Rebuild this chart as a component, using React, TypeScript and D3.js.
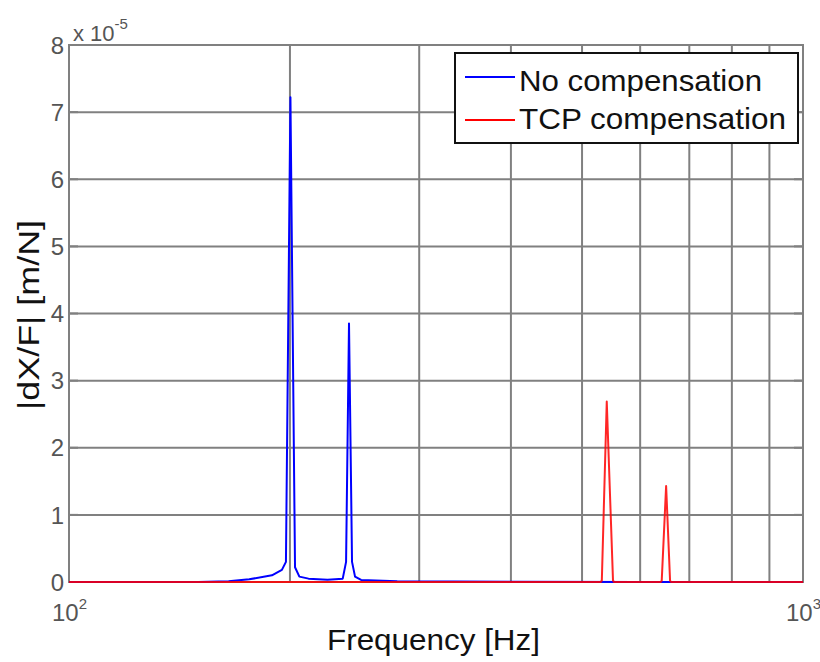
import React from "react";
import * as d3 from "d3";

// Frequencies in Hz, magnitudes in units of 1e-5 m/N
const noCompFreq = [100, 150, 165, 176, 189, 195, 197.5, 200.3, 203.2, 206, 212, 225, 236, 238.5, 240.7, 243, 245.3, 250, 280, 400, 600, 1000];
const noCompVal = [0, 0, 0.01, 0.04, 0.1, 0.18, 0.3, 7.22, 0.22, 0.08, 0.05, 0.035, 0.05, 0.3, 3.85, 0.3, 0.08, 0.03, 0.01, 0.003, 0.001, 0];

const tcpFreq = [100, 530, 532, 540.3, 551, 553, 640, 642, 650.9, 659, 661, 1000];
const tcpVal = [0, 0, 0.02, 2.69, 0.02, 0, 0, 0.02, 1.43, 0.02, 0, 0];

const yTicks = [0, 1, 2, 3, 4, 5, 6, 7, 8];
const xGrid = [200, 300, 400, 500, 600, 700, 800, 900];
const xMajor = [{ v: 100, base: "10", exp: "2" }, { v: 1000, base: "10", exp: "3" }];

const seriesNames = ["No compensation", "TCP compensation"];
const seriesColors = ["#0000ff", "#ff0000"];

export default function App() {
  const W = 820, H = 662;
  const left = 69, right = 803, top = 45, bottom = 582;
  const x = d3.scaleLog().domain([100, 1000]).range([left, right]);
  const y = d3.scaleLinear().domain([0, 8]).range([bottom, top]);
  const line = d3
    .line<[number, number]>()
    .x((d) => x(d[0]))
    .y((d) => y(d[1]));
  const blue = noCompFreq.map((f, i) => [f, noCompVal[i]] as [number, number]);
  const red = tcpFreq.map((f, i) => [f, tcpVal[i]] as [number, number]);
  const font = "'Liberation Sans', Arial, sans-serif";
  const gridColor = "#808080";
  const tickColor = "#555";

  return (
    <svg width={W} height={H} style={{ position: "absolute", left: 0, top: 0, background: "#fff" }} fontFamily={font}>
      <rect x={0} y={0} width={W} height={H} fill="#fff" />
      {/* grid */}
      {xGrid.map((v) => (
        <line key={"gx" + v} x1={x(v)} x2={x(v)} y1={top} y2={bottom} stroke={gridColor} strokeWidth={2} />
      ))}
      {yTicks.slice(1, -1).map((v) => (
        <line key={"gy" + v} x1={left} x2={right} y1={y(v)} y2={y(v)} stroke={gridColor} strokeWidth={2} />
      ))}
      {/* tick marks */}
      {yTicks.map((v) => (
        <g key={"ty" + v}>
          <line x1={left} x2={left + 9} y1={y(v)} y2={y(v)} stroke={gridColor} strokeWidth={2} />
          <line x1={right} x2={right - 9} y1={y(v)} y2={y(v)} stroke={gridColor} strokeWidth={2} />
        </g>
      ))}
      {/* frame */}
      <rect x={left} y={top} width={right - left} height={bottom - top} fill="none" stroke={gridColor} strokeWidth={2} />
      {/* series */}
      <path d={line(blue) || ""} fill="none" stroke={seriesColors[0]} strokeWidth={2} strokeLinejoin="round" />
      <path d={line(red) || ""} fill="none" stroke={seriesColors[1]} strokeWidth={2} strokeOpacity={0.85} strokeLinejoin="round" />
      {/* y tick labels */}
      {yTicks.map((v) => (
        <text key={"yl" + v} x={left - 5} y={y(v)} dy="0.36em" textAnchor="end" fontSize={24} fill={tickColor}>
          {v}
        </text>
      ))}
      {/* exponent */}
      <text x={73} y={41} fontSize={22} fill={tickColor}>
        x 10
        <tspan dy={-12} fontSize={15}>-5</tspan>
      </text>
      {/* x tick labels */}
      {xMajor.map((t) => (
        <text key={"xl" + t.v} x={x(t.v) - 17} y={621} fontSize={24} fill={tickColor}>
          {t.base}
          <tspan dy={-12} fontSize={15}>{t.exp}</tspan>
        </text>
      ))}
      {/* axis labels */}
      <text x={327} y={650} fontSize={29} fill="#111" textLength={213} lengthAdjust="spacingAndGlyphs">
        Frequency [Hz]
      </text>
      <text
        transform={`translate(39, 410) rotate(-90)`}
        fontSize={29}
        fill="#111"
        textLength={190}
        lengthAdjust="spacingAndGlyphs"
      >
        |dX/F| [m/N]
      </text>
      {/* legend */}
      <rect x={455} y={53} width={343} height={90} fill="#fff" stroke="#111" strokeWidth={2} />
      {seriesNames.map((name, i) => (
        <g key={name}>
          <line x1={465} x2={515} y1={77 + i * 43} y2={77 + i * 43} stroke={seriesColors[i]} strokeWidth={2} />
          <text
            x={519}
            y={91 + i * 38}
            fontSize={30}
            fill="#111"
            textLength={i === 0 ? 243 : 267}
            lengthAdjust="spacingAndGlyphs"
          >
            {name}
          </text>
        </g>
      ))}
    </svg>
  );
}
